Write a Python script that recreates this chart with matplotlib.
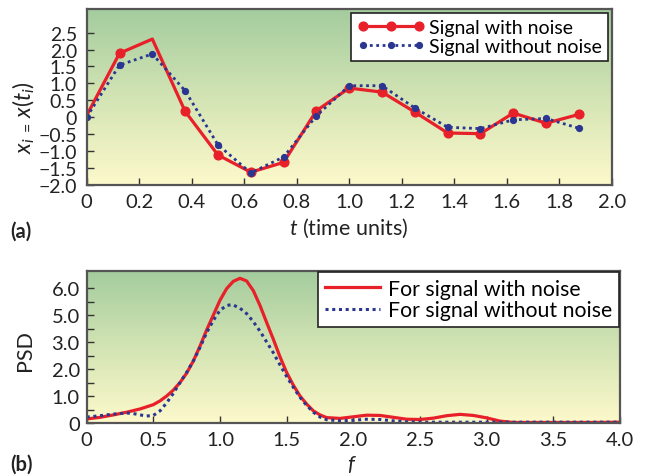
import numpy as np
import matplotlib
matplotlib.use("Agg")
import matplotlib.pyplot as plt
from matplotlib.colors import LinearSegmentedColormap

plt.rcParams['font.family'] = ['Lato', 'DejaVu Sans']
plt.rcParams['mathtext.fontset'] = 'custom'
plt.rcParams['mathtext.rm'] = 'Lato'
plt.rcParams['mathtext.it'] = 'Lato:italic'

# ---------------- data: panel (a) ----------------
t = [0, 0.125, 0.25, 0.375, 0.5, 0.625, 0.75, 0.875,
     1.0, 1.125, 1.25, 1.375, 1.5, 1.625, 1.75, 1.875]
x_noise = [0.05, 1.89, 2.31, 0.17, -1.12, -1.63, -1.34, 0.19,
           0.86, 0.74, 0.15, -0.47, -0.49, 0.12, -0.18, 0.08]
x_clean = [0.0, 1.54, 1.87, 0.78, -0.82, -1.65, -1.18, 0.04,
           0.93, 0.93, 0.27, -0.30, -0.34, -0.08, -0.04, -0.33]

# ---------------- data: panel (b) ----------------
f_noise = [0.0, 0.1, 0.2, 0.3, 0.4, 0.5, 0.55, 0.6, 0.65, 0.7, 0.75, 0.8, 0.85,
           0.9, 0.95, 1.0, 1.05, 1.1, 1.15, 1.2, 1.25, 1.3, 1.35, 1.4, 1.45,
           1.5, 1.55, 1.6, 1.65, 1.7, 1.75, 1.8, 1.9, 2.0, 2.1, 2.2, 2.3, 2.4,
           2.5, 2.6, 2.7, 2.8, 2.9, 3.0, 3.1, 3.2, 3.4, 3.6, 3.8, 4.0]
psd_noise = [0.15, 0.21, 0.30, 0.40, 0.52, 0.68, 0.82, 1.00, 1.22, 1.50, 1.85,
             2.30, 2.85, 3.45, 4.00, 4.55, 4.98, 5.25, 5.36, 5.26, 4.90, 4.35,
             3.72, 3.10, 2.45, 1.87, 1.40, 1.00, 0.70, 0.45, 0.30, 0.20, 0.17,
             0.23, 0.29, 0.28, 0.21, 0.14, 0.13, 0.18, 0.27, 0.32, 0.28, 0.19,
             0.07, 0.02, 0.02, 0.02, 0.02, 0.03]
f_clean = [0.0, 0.1, 0.2, 0.3, 0.35, 0.4, 0.45, 0.5, 0.55, 0.6, 0.65, 0.7, 0.75,
           0.8, 0.85, 0.9, 0.95, 1.0, 1.05, 1.08, 1.1, 1.15, 1.2, 1.25, 1.3,
           1.35, 1.4, 1.45, 1.5, 1.55, 1.6, 1.65, 1.7, 1.75, 1.8, 1.9, 2.0,
           2.1, 2.2, 2.3, 2.4, 2.5, 2.8, 3.0, 3.5, 4.0]
psd_clean = [0.22, 0.27, 0.33, 0.37, 0.35, 0.30, 0.26, 0.28, 0.45, 0.75, 1.10,
             1.50, 1.88, 2.30, 2.80, 3.35, 3.80, 4.18, 4.35, 4.38, 4.37, 4.25,
             4.05, 3.75, 3.40, 3.00, 2.60, 2.15, 1.72, 1.32, 0.95, 0.65, 0.40,
             0.22, 0.12, 0.08, 0.10, 0.14, 0.13, 0.08, 0.04, 0.03, 0.03, 0.03,
             0.03, 0.03]

ya_ticks = [-2.0, -1.5, -1.0, -0.5, 0, 0.5, 1.0, 1.5, 2.0, 2.5]
ya_labels = ["\u22122.0", "\u22121.5", "\u22121.0", "\u22120.5", "0",
             "0.5", "1.0", "1.5", "2.0", "2.5"]
xa_ticks = [0, 0.2, 0.4, 0.6, 0.8, 1.0, 1.2, 1.4, 1.6, 1.8, 2.0]
xb_ticks = [0, 0.5, 1.0, 1.5, 2.0, 2.5, 3.0, 3.5, 4.0]
yb_major = [0, 1, 2, 3, 4, 5]
yb_labels = ["0", "1.0", "2.0", "3.0", "5.0", "6.0"]
yb_minor = [0.5, 1.5, 2.5, 3.5, 4.5]

RED = '#e8202a'
BLUE = '#2a3690'
FRAME = '#555555'
TXT = '#222222'

W, H = 650, 477
fig = plt.figure(figsize=(6.5, 4.77), dpi=100)

def px_axes(l, t_, r, b):
    return fig.add_axes([l / W, 1 - b / H, (r - l) / W, (b - t_) / H])

grad_cmap = LinearSegmentedColormap.from_list(
    'bg', ['#fdf9cb', '#d3e4b4', '#a4cc9e'])

def background(ax):
    g = np.linspace(0, 1, 256).reshape(-1, 1)
    ax.imshow(g, cmap=grad_cmap, origin='lower', aspect='auto',
              extent=[0, 1, 0, 1], transform=ax.transAxes, zorder=0)

def style(ax):
    for s in ax.spines.values():
        s.set_color(FRAME)
        s.set_linewidth(1.6)
        s.set_zorder(5)
    ax.tick_params(which='both', direction='in', top=False, right=False,
                   color='#333333', width=1.0, length=5, labelcolor=TXT)

# ---------------- panel (a) ----------------
axa = px_axes(86.7, 10, 611.7, 185.7)
background(axa)
axa.plot(t, x_noise, '-', color=RED, lw=2.3, marker='o', ms=6.3,
         markevery=[1, 3, 4, 5, 6, 7, 8, 9, 10, 11, 12, 13, 14, 15],
         label='Signal with noise', zorder=3)
axa.plot(t, x_clean, color=BLUE, lw=2.0, linestyle=(0, (1, 1.3)),
         marker='o', ms=4.2, label='Signal without noise', zorder=4)
axa.set_xlim(0, 2.0)
axa.set_ylim(-2.0, 3.2)
axa.set_xticks(xa_ticks)
axa.set_xticklabels([f"{v:.1f}" if v != 0 else "0" for v in xa_ticks])
axa.set_yticks(ya_ticks)
axa.set_yticklabels(ya_labels)
style(axa)
axa.tick_params(axis='x', labelsize=14.5, pad=6)
axa.tick_params(axis='y', labelsize=14, pad=7)
leg = axa.legend(loc='upper right', fontsize=14, numpoints=3,
                 handlelength=3.5, handletextpad=0.2, borderpad=0.3,
                 labelspacing=0.1, borderaxespad=0.2, fancybox=False,
                 framealpha=1, edgecolor=TXT)
leg.get_frame().set_linewidth(1.2)

# ---------------- panel (b) ----------------
axb = px_axes(86.7, 272.3, 620, 424)
background(axb)
axb.plot(f_noise, psd_noise, '-', color=RED, lw=2.3,
         label='For signal with noise', zorder=3)
axb.plot(f_clean, psd_clean, color=BLUE, lw=2.2, linestyle=(0, (1, 1.2)),
         label='For signal without noise', zorder=4)
axb.set_xlim(0, 4.0)
axb.set_ylim(0, 5.62)
axb.set_xticks(xb_ticks)
axb.set_xticklabels([f"{v:.1f}" if v != 0 else "0" for v in xb_ticks])
axb.set_yticks(yb_major)
axb.set_yticklabels(yb_labels)
axb.set_yticks(yb_minor, minor=True)
style(axb)
axb.tick_params(axis='x', labelsize=14.5, pad=5.5)
axb.tick_params(axis='y', labelsize=14.5, pad=5)
axb.tick_params(which='minor', length=5)
leg2 = axb.legend(loc='upper right', fontsize=15.3, handlelength=2.6,
                  handletextpad=0.4, borderpad=0.3, labelspacing=0.08,
                  borderaxespad=0.05, fancybox=False, framealpha=1,
                  edgecolor=TXT)
leg2.get_frame().set_linewidth(1.2)

# ---------------- labels ----------------
fig.text(349 / W, 1 - 228 / H, r"$t$ (time units)", fontsize=15.5,
         ha='center', va='center', color=TXT)
fig.text(24 / W, 1 - 118 / H, r"$x_i\,{}_{=}\,x(t_i)$", fontsize=16.5,
         rotation=90, ha='center', va='center', color=TXT)
fig.text(25 / W, 1 - 351 / H, "PSD", fontsize=15.5, rotation=90,
         ha='center', va='center', color=TXT)
fig.text(352 / W, 1 - 465 / H, r"$f$", fontsize=15.5,
         ha='center', va='center', color=TXT)
fig.text(10 / W, 1 - 232 / H, "(a)", fontsize=14.5, fontweight='bold',
         ha='left', va='center', color=TXT)
fig.text(10 / W, 1 - 465 / H, "(b)", fontsize=14.5, fontweight='bold',
         ha='left', va='center', color=TXT)

fig.savefig("out.png", dpi=100)
